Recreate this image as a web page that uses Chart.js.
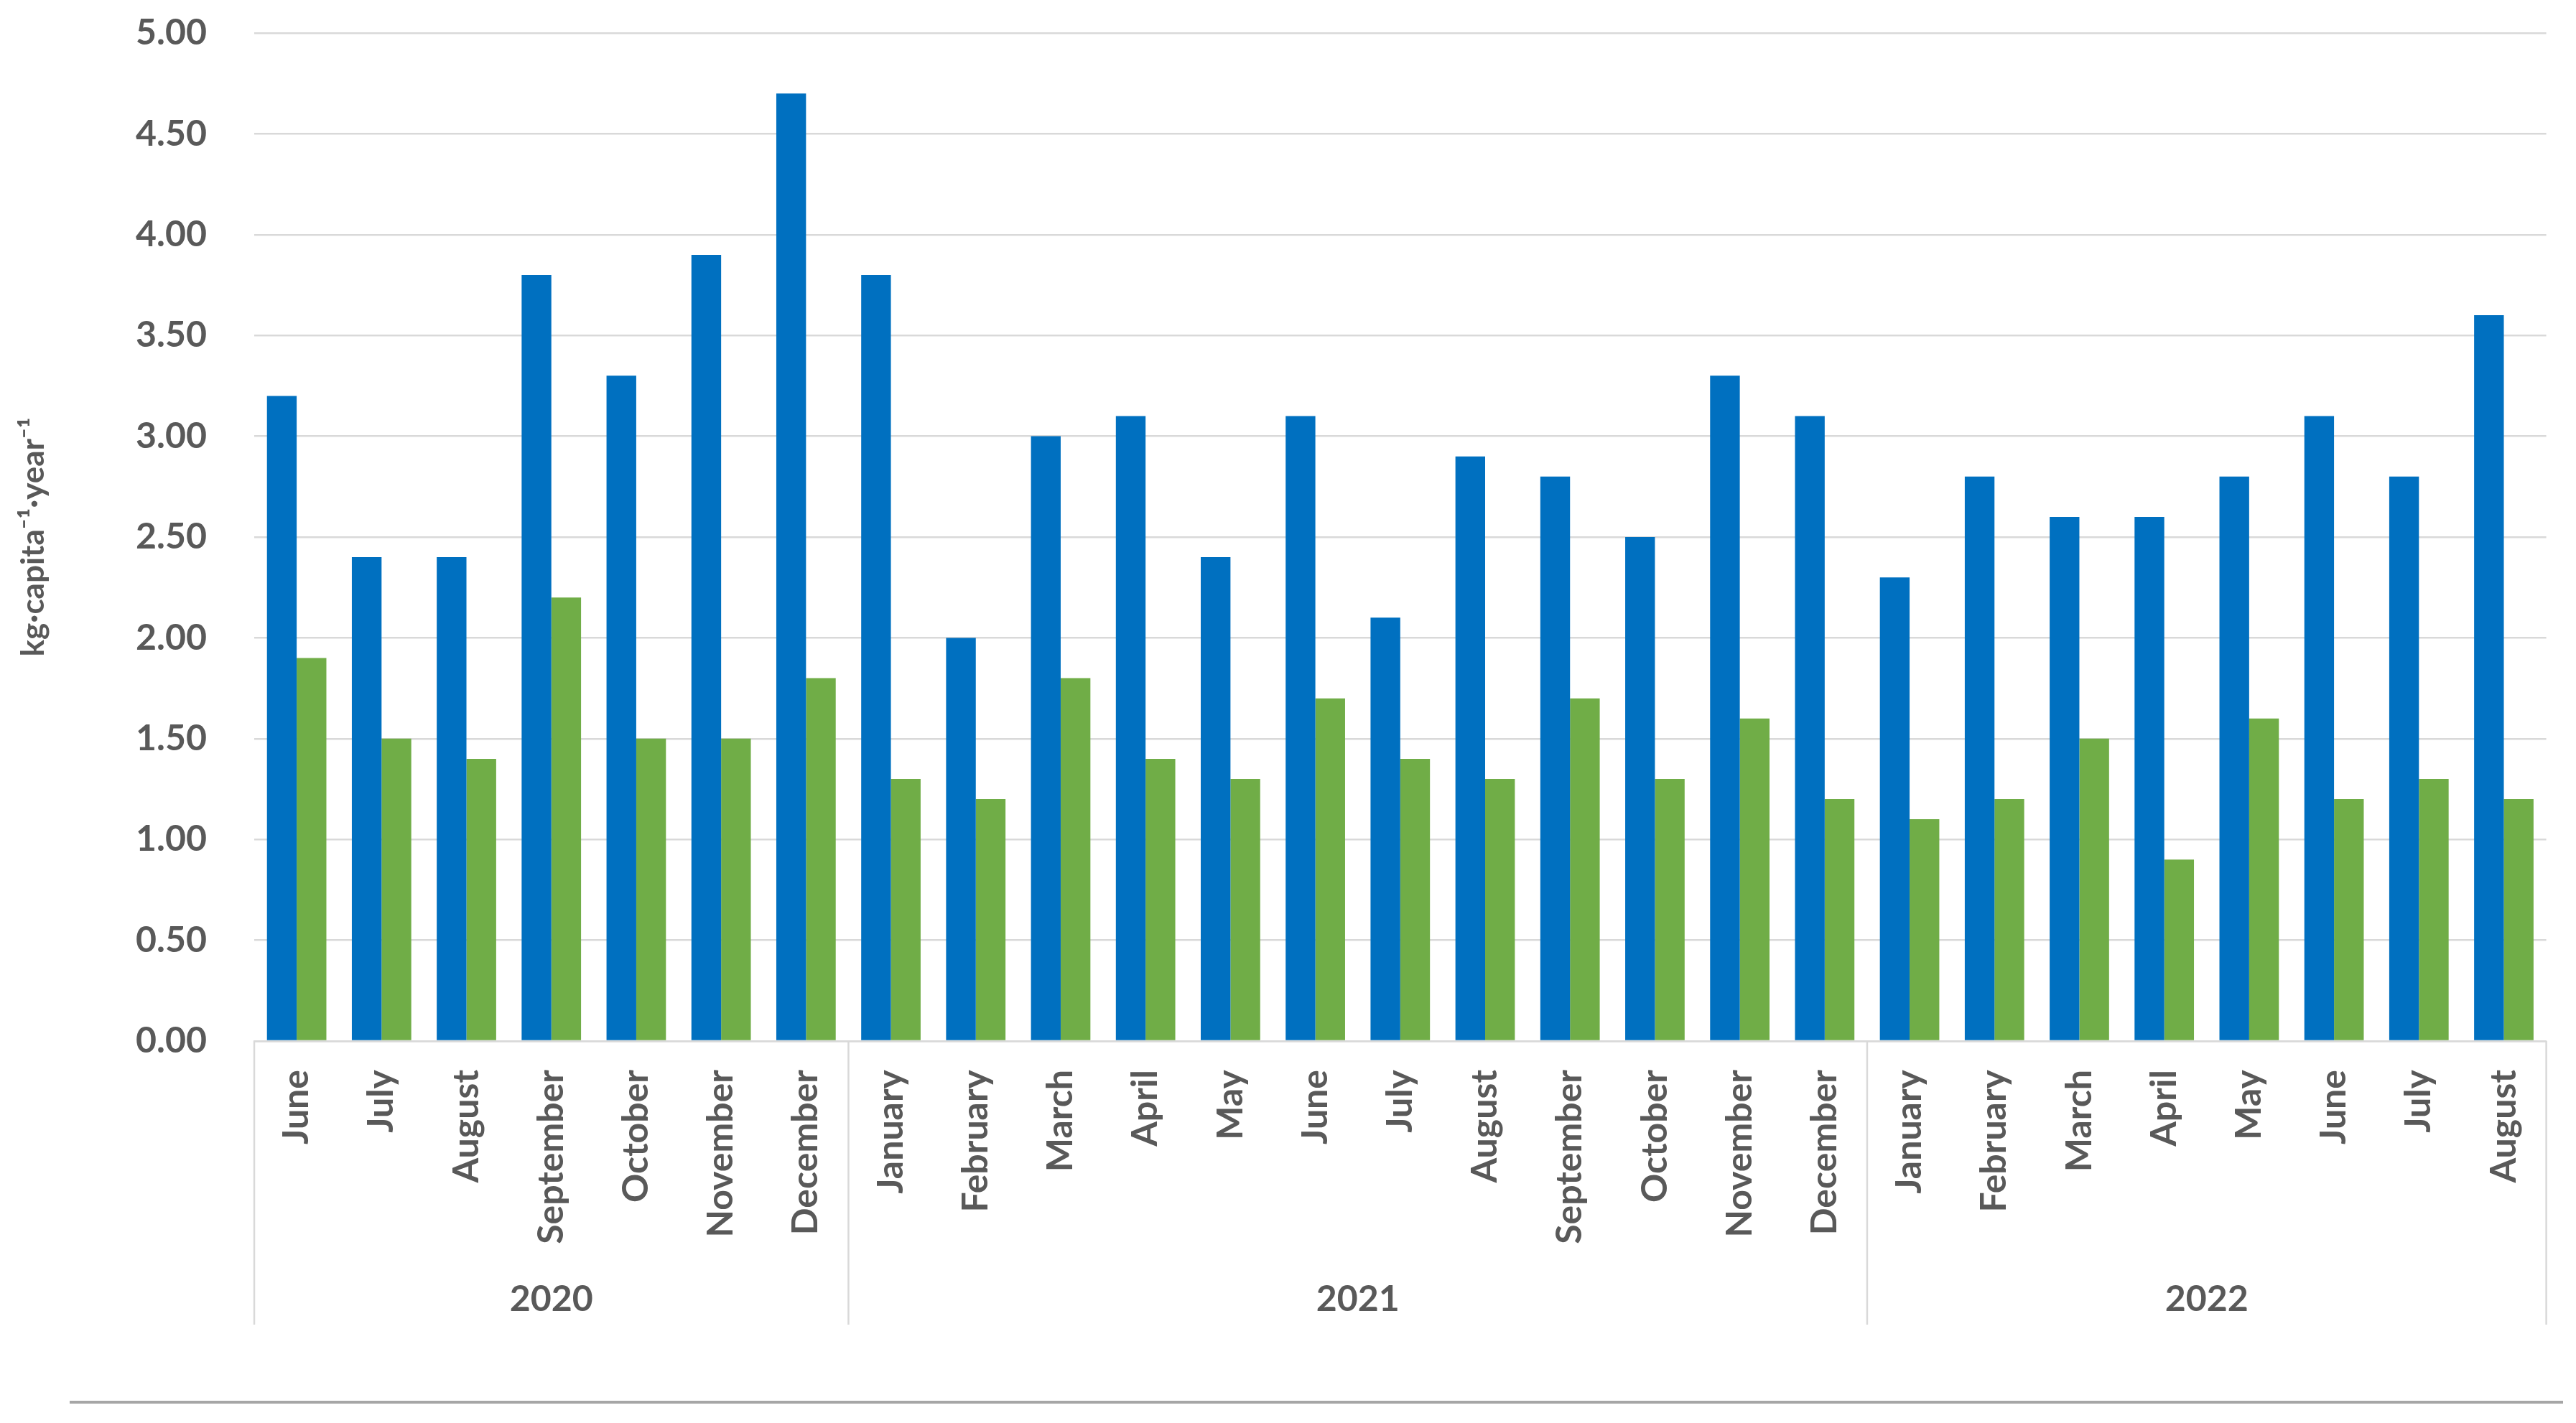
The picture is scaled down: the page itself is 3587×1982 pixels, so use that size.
<!DOCTYPE html>
<html>
<head>
<meta charset="utf-8">
<script src="https://cdn.jsdelivr.net/npm/chart.js@4"></script>
<style>
html,body{margin:0;padding:0;background:#fff;overflow:hidden;}
#wrap{width:3587px;height:1982px;position:relative;}
canvas{display:block;}
</style>
</head>
<body>
<div id="wrap"><canvas id="c" width="3587" height="1982"></canvas></div>
<script>
const months = ["June","July","August","September","October","November","December",
  "January","February","March","April","May","June","July","August","September","October","November","December",
  "January","February","March","April","May","June","July","August"];
const years = ["2020","2021","2022"];
const yearCounts = [7,12,8];
const blueValues = [3.2,2.4,2.4,3.8,3.3,3.9,4.7,
  3.8,2.0,3.0,3.1,2.4,3.1,2.1,2.9,2.8,2.5,3.3,3.1,
  2.3,2.8,2.6,2.6,2.8,3.1,2.8,3.6];
const greenValues = [1.9,1.5,1.4,2.2,1.5,1.5,1.8,
  1.3,1.2,1.8,1.4,1.3,1.7,1.4,1.3,1.7,1.3,1.6,1.2,
  1.1,1.2,1.5,0.9,1.6,1.2,1.3,1.2];
const yTitle = "kg·capita⁻¹·year⁻¹";

const FONT = "Lato, 'Open Sans', sans-serif";
const TXT = "#595959";
const GRID = "#D9D9D9";

const yearPlugin = {
  id: 'yearPlugin',
  afterDraw(chart) {
    const ctx = chart.ctx;
    const x = chart.scales.x;
    const area = chart.chartArea;
    const step = x.width / months.length;
    const lineBottom = 1845;
    ctx.save();
    ctx.strokeStyle = GRID;
    ctx.lineWidth = 2.5;
    let idx = 0;
    const bounds = [x.left];
    yearCounts.forEach(c => { idx += c; bounds.push(x.getPixelForValue(idx - 1) + step / 2); });
    bounds.forEach(b => {
      ctx.beginPath();
      ctx.moveTo(b, area.bottom);
      ctx.lineTo(b, lineBottom);
      ctx.stroke();
    });
    ctx.fillStyle = TXT;
    ctx.font = "bold 50px " + FONT;
    ctx.textAlign = "center";
    ctx.textBaseline = "middle";
    years.forEach((y, i) => {
      ctx.fillText(y, (bounds[i] + bounds[i + 1]) / 2, 1810);
    });
    ctx.strokeStyle = "#A6A6A6";
    ctx.lineWidth = 4;
    ctx.beginPath();
    ctx.moveTo(97, 1953);
    ctx.lineTo(3569, 1953);
    ctx.stroke();
    ctx.restore();
  }
};

new Chart(document.getElementById('c'), {
  type: 'bar',
  data: {
    labels: months,
    datasets: [
      { data: blueValues, backgroundColor: "#0070C0", categoryPercentage: 0.70, barPercentage: 1.0 },
      { data: greenValues, backgroundColor: "#70AD47", categoryPercentage: 0.70, barPercentage: 1.0 }
    ]
  },
  options: {
    responsive: false,
    animation: false,
    devicePixelRatio: 1,
    layout: { padding: { left: 0, right: 27, top: 46, bottom: 0 } },
    plugins: { legend: { display: false }, tooltip: { enabled: false } },
    scales: {
      x: {
        grid: { display: false, drawTicks: false },
        border: { display: true, color: GRID, width: 2.5 },
        ticks: { color: TXT, font: { family: FONT, size: 50, weight: 'bold' }, maxRotation: 90, minRotation: 90, padding: 40, autoSkip: false },
        afterFit(s) { s.height = 1982 - 1450; }
      },
      y: {
        min: 0, max: 5,
        grid: { color: GRID, lineWidth: 2.5, drawTicks: true, tickLength: 58, tickColor: 'rgba(0,0,0,0)' },
        border: { display: false },
        ticks: { stepSize: 0.5, color: TXT, padding: 8, font: { family: FONT, size: 50, weight: 'bold' }, callback: v => v.toFixed(2) },
        title: { display: true, text: yTitle, color: TXT, font: { family: FONT, size: 44, weight: 'bold' }, padding: { top: 20, bottom: 0 } },
        afterFit(s) { s.width = 354; }
      }
    }
  },
  plugins: [yearPlugin]
});
</script>
</body>
</html>
